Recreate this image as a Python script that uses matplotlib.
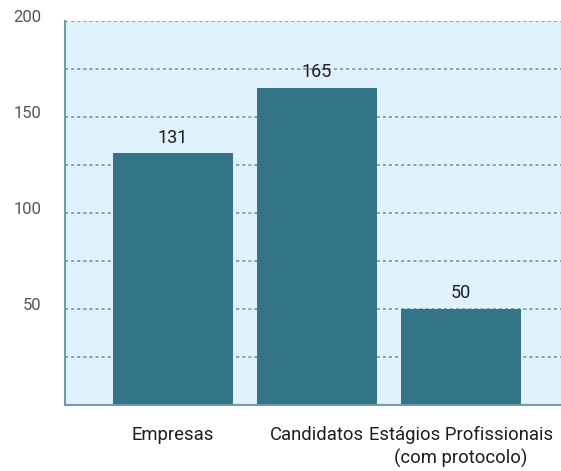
import numpy as np
import matplotlib
matplotlib.use("Agg")
from matplotlib import pyplot as plt
from matplotlib import transforms

# Données
categories = ["Empresas", "Candidatos", "Estágios Profissionais\n(com protocolo)"]
valores = [131, 165, 50]
y_labels = [50, 100, 150, 200]
y_grid = [25, 50, 75, 100, 125, 150, 175, 200]

cor_barra = "#347487"
cor_fundo = "#dff1fb"
cor_grid = "#5f93a3"

plt.rcParams["font.family"] = ["Roboto", "DejaVu Sans"]

fig = plt.figure(figsize=(5.61, 4.71), dpi=100)
ax = fig.add_axes([65 / 561, 1 - 405 / 471, 1 - 65 / 561, (405 - 21) / 471])
ax.set_facecolor(cor_fundo)

x = np.arange(len(categories))
ax.set_axisbelow(True)
for g in y_grid:
    ax.axhline(g, color=cor_grid, linestyle=(0, (2, 2)), linewidth=1.1, zorder=1)
ax.bar(x, valores, width=0.833, color=cor_barra, zorder=2)

for xi, v in zip(x, valores):
    ax.annotate(str(v), (xi, v), xytext=(0, 11.5), textcoords="offset points",
                ha="center", va="center", fontsize=13, color="#1e1e1e")

ax.set_xlim(-0.75, 2.694)
ax.set_ylim(0, 200)
ax.set_xticks(x)
ax.set_xticklabels(categories, fontsize=13.3, color="#1e1e1e", linespacing=1.3)
ax.set_yticks(y_labels)
ax.set_yticklabels([str(v) for v in y_labels], fontsize=12, color="#555555")
ax.tick_params(axis="x", length=0, pad=15)
ax.tick_params(axis="y", length=0, pad=17)

# étiquettes de l'axe y un peu au-dessus des lignes
offset = transforms.ScaledTranslation(0, 5 / 100, fig.dpi_scale_trans)
for lbl in ax.get_yticklabels():
    lbl.set_transform(lbl.get_transform() + offset)

for side in ["top", "right"]:
    ax.spines[side].set_visible(False)
for side in ["left", "bottom"]:
    ax.spines[side].set_color("#6f9cab")
    ax.spines[side].set_linewidth(1.5)

fig.savefig("out.png", dpi=100)
